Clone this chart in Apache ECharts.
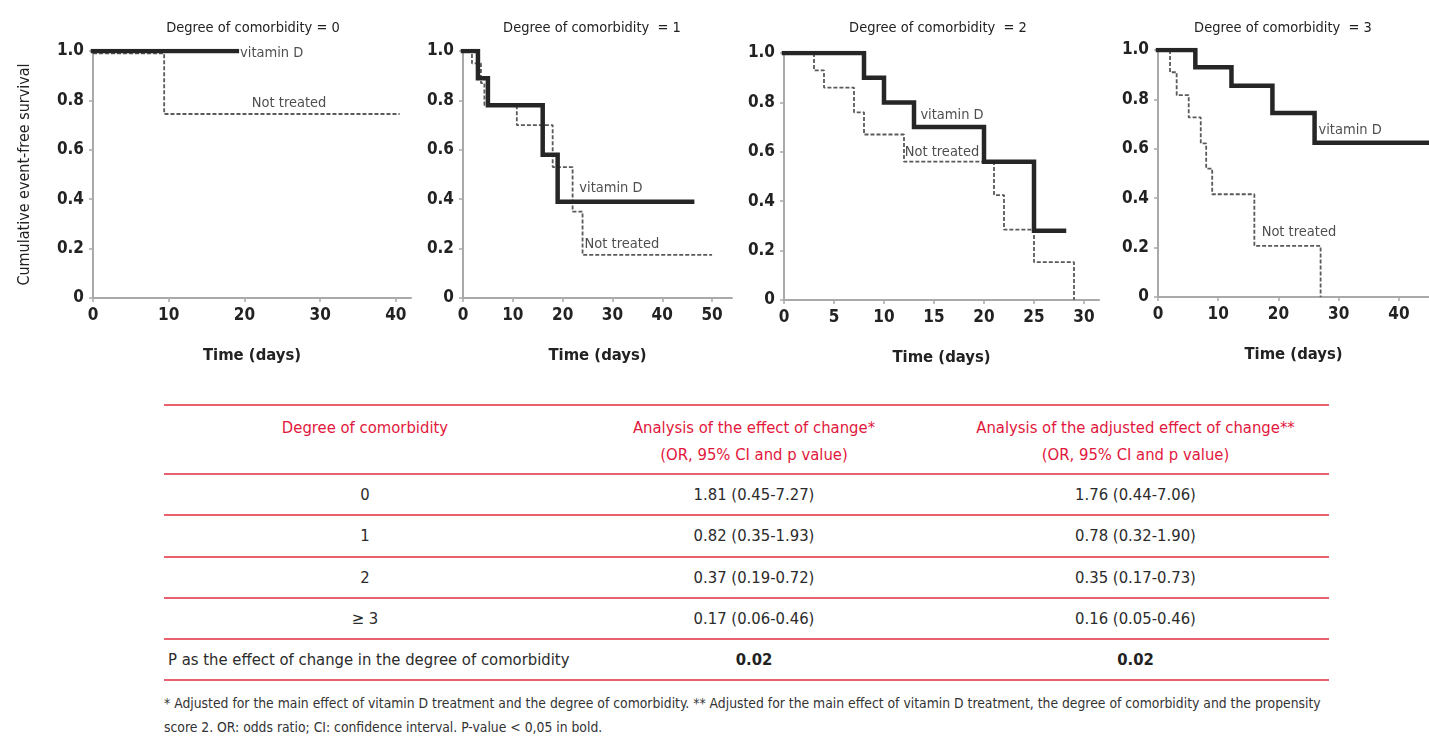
<!DOCTYPE html>
<html>
<head>
<meta charset="utf-8">
<script src="https://cdn.jsdelivr.net/npm/echarts@6/dist/echarts.min.js"></script>
<style>
  html, body { margin:0; padding:0; background:#fff; width:1429px; height:739px; overflow:hidden; }
  body { font-family: "DejaVu Sans Condensed", "Liberation Sans Narrow", "Roboto", sans-serif; }
  #chart { position:absolute; left:0; top:0; width:1429px; height:390px; }
  #tbl { position:absolute; left:164px; top:404px; width:1165px; border-collapse:collapse; table-layout:fixed; }
  #tbl td { border-top:2px solid #e9606f; text-align:center; vertical-align:middle; padding:0; color:#2b2b2b; font-size:16.5px; white-space:nowrap; }
  #tbl tr.last td { border-bottom:2px solid #e9606f; }
  #tbl tr.head td { color:#e2173c; height:59px; padding-top:8px; line-height:27px; vertical-align:top; }
  #tbl tr.row td { height:39.3px; }
  #tbl td.l { text-align:left; padding-left:4px; }
  #tbl b { font-weight:bold; color:#222; }
  #foot { position:absolute; left:164px; top:691px; width:1180px; font-size:13.8px; line-height:24px; color:#333; }
</style>
</head>
<body>
<div id="chart"></div>
<table id="tbl">
  <colgroup><col style="width:402px"><col style="width:376px"><col style="width:387px"></colgroup>
  <tbody id="tbody"></tbody>
</table>
<div id="foot"></div>
<script>
// ---------- data ----------
const panelTitles = ['Degree of comorbidity = 0', 'Degree of comorbidity  = 1', 'Degree of comorbidity  = 2', 'Degree of comorbidity  = 3'];
const xTicks0 = [0, 10, 20, 30, 40];
const xTicks1 = [0, 10, 20, 30, 40, 50];
const xTicks2 = [0, 5, 10, 15, 20, 25, 30];
const xTicks3 = [0, 10, 20, 30, 40];
const yTicks = [0, 0.2, 0.4, 0.6, 0.8, 1.0];

// Kaplan-Meier steps: [time, survival after the event]
const vitD0 = [[0, 1], [19, 1]];
const notT0 = [[0, 0.99], [9.4, 0.745], [40.5, 0.745]];
const vitD1 = [[0, 1], [3, 0.89], [5, 0.78], [16, 0.58], [19, 0.39], [46, 0.39]];
const notT1 = [[0, 1], [1.8, 0.95], [3.6, 0.87], [4.3, 0.78], [10.8, 0.70], [18, 0.53], [22, 0.35], [24, 0.175], [50, 0.175]];
const vitD2 = [[0, 1], [8, 0.90], [10, 0.80], [13, 0.70], [20, 0.56], [25, 0.28], [28, 0.28]];
const notT2 = [[0, 1], [3, 0.93], [4, 0.86], [7, 0.76], [8, 0.67], [12, 0.56], [21, 0.425], [22, 0.285], [25, 0.153], [29, 0.0]];
const vitD3 = [[0, 1], [6.2, 0.93], [12.2, 0.855], [19, 0.745], [26, 0.624], [45, 0.624]];
const notT3 = [[0, 1], [2, 0.91], [3.1, 0.817], [5.1, 0.727], [7.1, 0.622], [8, 0.52], [9, 0.416], [16, 0.207], [27, 0.0]];

const seriesNames = ['vitamin D', 'Not treated'];

// table
const tableHeader = ['Degree of comorbidity', 'Analysis of the effect of change*<br>(OR, 95% CI and p value)', 'Analysis of the adjusted effect of change**<br>(OR, 95% CI and p value)'];
const tableDegrees = ['0', '1', '2', '≥ 3'];
const tableEffect = ['1.81 (0.45-7.27)', '0.82 (0.35-1.93)', '0.37 (0.19-0.72)', '0.17 (0.06-0.46)'];
const tableAdjusted = ['1.76 (0.44-7.06)', '0.78 (0.32-1.90)', '0.35 (0.17-0.73)', '0.16 (0.05-0.46)'];
const pRow = ['P as the effect of change in the degree of comorbidity', '0.02', '0.02'];
const footnote = '* Adjusted for the main effect of vitamin D treatment and the degree of comorbidity. ** Adjusted for the main effect of vitamin D treatment, the degree of comorbidity and the propensity<br>score 2. OR: odds ratio; CI: confidence interval. P-value &lt; 0,05 in bold.';

// ---------- layout ----------
const FONT = '"DejaVu Sans Condensed", "Liberation Sans Narrow", sans-serif';
const panels = [
  { grid: { left: 93, top: 51, width: 318, height: 247 }, xmax: 42, xint: 10, ticks: xTicks0, vit: vitD0, nt: notT0, titleX: 248,
    labels: [[23.6, 0.99], [25.9, 0.79]] },
  { grid: { left: 463, top: 51, width: 269, height: 247 }, xmax: 54, xint: 10, ticks: xTicks1, vit: vitD1, nt: notT1, titleX: 587,
    labels: [[29.7, 0.443], [31.9, 0.216]] },
  { grid: { left: 784, top: 53, width: 315, height: 247 }, xmax: 31.5, xint: 5, ticks: xTicks2, vit: vitD2, nt: notT2, titleX: 933,
    labels: [[16.8, 0.749], [15.8, 0.60]] },
  { grid: { left: 1158, top: 50, width: 271, height: 247 }, xmax: 45, xint: 10, ticks: xTicks3, vit: vitD3, nt: notT3, titleX: 1278,
    labels: [[31.9, 0.675], [23.4, 0.263]] }
];

const axisColor = '#a9a9a9';
const option = {
  animation: false,
  title: panels.map((p, i) => ({
    text: panelTitles[i], left: p.titleX, top: 16, textAlign: 'center',
    textStyle: { fontFamily: FONT, fontSize: 14.5, fontWeight: 'normal', color: '#222' }
  })),
  grid: panels.map(p => p.grid),
  xAxis: panels.map((p, i) => ({
    type: 'value', gridIndex: i, min: 0, max: p.xmax, interval: p.xint,
    name: 'Time (days)', nameLocation: 'middle', nameGap: 49,
    nameTextStyle: { fontFamily: FONT, fontSize: 16.5, fontWeight: 'bold', color: '#222' },
    axisLine: { show: true, lineStyle: { color: axisColor, width: 2 } },
    axisTick: { show: true, length: 4, customValues: p.ticks, lineStyle: { color: axisColor, width: 1.5 } },
    axisLabel: { customValues: p.ticks, margin: 9, fontFamily: FONT, fontSize: 17, fontWeight: 'bold', color: '#222' },
    splitLine: { show: false }
  })),
  yAxis: panels.map((p, i) => ({
    type: 'value', gridIndex: i, min: 0, max: 1, interval: 0.2,
    name: i === 0 ? 'Cumulative event-free survival' : '', nameLocation: 'middle', nameGap: 60,
    nameTextStyle: { fontFamily: FONT, fontSize: 16, color: '#222' },
    axisLine: { show: true, lineStyle: { color: axisColor, width: 2 } },
    axisTick: { show: true, length: 4, customValues: yTicks, lineStyle: { color: axisColor, width: 1.5 } },
    axisLabel: { customValues: yTicks, margin: 9, fontFamily: FONT, fontSize: 17, fontWeight: 'bold', color: '#222',
      formatter: v => v === 0 ? '0' : v.toFixed(1) },
    splitLine: { show: false }
  })),
  series: []
};

panels.forEach((p, i) => {
  option.series.push({
    type: 'line', xAxisIndex: i, yAxisIndex: i, name: seriesNames[1], data: p.nt, step: 'end',
    showSymbol: false, symbol: 'none', z: 2,
    lineStyle: { color: '#5a5a5a', width: 1.8, type: [4, 2] }
  });
  option.series.push({
    type: 'line', xAxisIndex: i, yAxisIndex: i, name: seriesNames[0], data: p.vit, step: 'end',
    showSymbol: false, symbol: 'none', z: 3,
    lineStyle: { color: '#262626', width: 4.5, cap: 'square', join: 'miter' }
  });
  option.series.push({
    type: 'scatter', xAxisIndex: i, yAxisIndex: i, symbolSize: 1, z: 4, silent: true,
    itemStyle: { color: 'transparent' },
    label: { show: true, position: 'inside', formatter: '{b}', fontFamily: FONT, fontSize: 14.5, color: '#222' },
    data: seriesNames.map((n, k) => ({ name: n, value: p.labels[k] }))
  });
});

const chart = echarts.init(document.getElementById('chart'), null, { renderer: 'canvas' });
chart.setOption(option);

// ---------- table ----------
const tb = document.getElementById('tbody');
let html = '<tr class="head">' + tableHeader.map(h => '<td>' + h + '</td>').join('') + '</tr>';
tableDegrees.forEach((d, k) => {
  html += '<tr class="row"><td>' + d + '</td><td>' + tableEffect[k] + '</td><td>' + tableAdjusted[k] + '</td></tr>';
});
html += '<tr class="row last"><td class="l">' + pRow[0] + '</td><td><b>' + pRow[1] + '</b></td><td><b>' + pRow[2] + '</b></td></tr>';
tb.innerHTML = html;
document.getElementById('foot').innerHTML = footnote;
</script>
</body>
</html>
